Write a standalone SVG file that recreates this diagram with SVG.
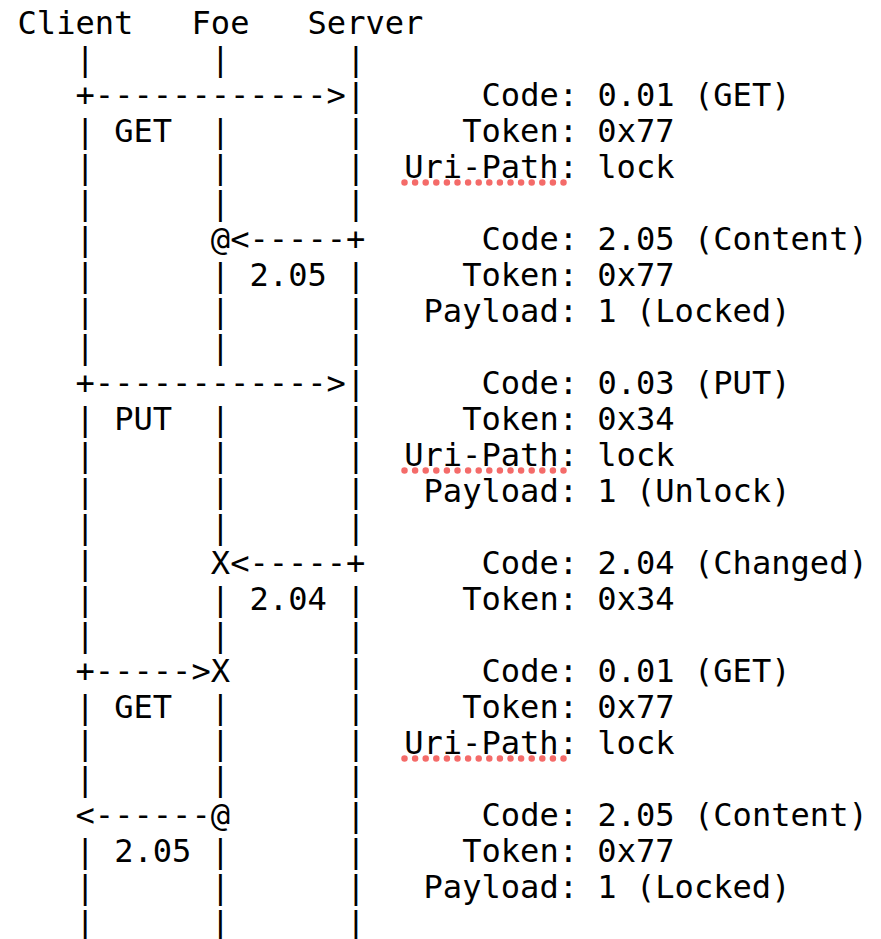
<svg xmlns="http://www.w3.org/2000/svg" width="881" height="939" viewBox="0 0 881 939">
<style>
text{font-family:"DejaVu Sans Mono","Liberation Mono",monospace;font-size:32.1px;fill:#000;white-space:pre}
.sq{fill:none;stroke:#f2514f;stroke-width:6.5;stroke-linecap:round;stroke-dasharray:0 10.6;opacity:.85}
</style>
<rect width="881" height="939" fill="#fff"/>
<g transform="translate(2.5,0)">
<g id="client">
<text x="15" y="33.5">Client</text>
<text><tspan x="73" y="69.5">|</tspan><tspan x="73" y="141.5">|</tspan><tspan x="73" y="177.5">|</tspan><tspan x="73" y="213.5">|</tspan><tspan x="73" y="249.5">|</tspan><tspan x="73" y="285.5">|</tspan><tspan x="73" y="321.5">|</tspan><tspan x="73" y="357.5">|</tspan><tspan x="73" y="429.5">|</tspan><tspan x="73" y="465.5">|</tspan><tspan x="73" y="501.5">|</tspan><tspan x="73" y="537.5">|</tspan><tspan x="73" y="573.5">|</tspan><tspan x="73" y="609.5">|</tspan><tspan x="73" y="645.5">|</tspan><tspan x="73" y="717.5">|</tspan><tspan x="73" y="753.5">|</tspan><tspan x="73" y="789.5">|</tspan><tspan x="73" y="861.5">|</tspan><tspan x="73" y="897.5">|</tspan><tspan x="73" y="933.5">|</tspan></text>
</g>
<g id="foe">
<text x="189" y="33.5">Foe</text>
<text><tspan x="208.33" y="69.5">|</tspan><tspan x="208.33" y="141.5">|</tspan><tspan x="208.33" y="177.5">|</tspan><tspan x="208.33" y="213.5">|</tspan><tspan x="208.33" y="285.5">|</tspan><tspan x="208.33" y="321.5">|</tspan><tspan x="208.33" y="357.5">|</tspan><tspan x="208.33" y="429.5">|</tspan><tspan x="208.33" y="465.5">|</tspan><tspan x="208.33" y="501.5">|</tspan><tspan x="208.33" y="537.5">|</tspan><tspan x="208.33" y="609.5">|</tspan><tspan x="208.33" y="645.5">|</tspan><tspan x="208.33" y="717.5">|</tspan><tspan x="208.33" y="753.5">|</tspan><tspan x="208.33" y="789.5">|</tspan><tspan x="208.33" y="861.5">|</tspan><tspan x="208.33" y="897.5">|</tspan><tspan x="208.33" y="933.5">|</tspan></text>
</g>
<g id="server">
<text x="305" y="33.5">Server</text>
<text><tspan x="343.67" y="69.5">|</tspan><tspan x="343.67" y="105.5">|</tspan><tspan x="343.67" y="141.5">|</tspan><tspan x="343.67" y="177.5">|</tspan><tspan x="343.67" y="213.5">|</tspan><tspan x="343.67" y="285.5">|</tspan><tspan x="343.67" y="321.5">|</tspan><tspan x="343.67" y="357.5">|</tspan><tspan x="343.67" y="393.5">|</tspan><tspan x="343.67" y="429.5">|</tspan><tspan x="343.67" y="465.5">|</tspan><tspan x="343.67" y="501.5">|</tspan><tspan x="343.67" y="537.5">|</tspan><tspan x="343.67" y="609.5">|</tspan><tspan x="343.67" y="645.5">|</tspan><tspan x="343.67" y="681.5">|</tspan><tspan x="343.67" y="717.5">|</tspan><tspan x="343.67" y="753.5">|</tspan><tspan x="343.67" y="789.5">|</tspan><tspan x="343.67" y="825.5">|</tspan><tspan x="343.67" y="861.5">|</tspan><tspan x="343.67" y="897.5">|</tspan><tspan x="343.67" y="933.5">|</tspan></text>
</g>
<g id="connectors">
<text x="73" y="105.5">+------------&gt;</text>
<text x="111.67" y="141.5">GET</text>
<text x="208.33" y="249.5">@&lt;-----+</text>
<text x="247" y="285.5">2.05</text>
<text x="73" y="393.5">+------------&gt;</text>
<text x="111.67" y="429.5">PUT</text>
<text x="208.33" y="573.5">X&lt;-----+</text>
<text x="247" y="609.5">2.04</text>
<text x="73" y="681.5">+-----&gt;X</text>
<text x="111.67" y="717.5">GET</text>
<text x="73" y="825.5">&lt;------@</text>
<text x="111.67" y="861.5">2.05</text>
</g>
<g id="annotations">
<text x="479" y="105.5">Code: 0.01 (GET)</text>
<text x="459.67" y="141.5">Token: 0x77</text>
<text x="401.67" y="177.5">Uri-Path: lock</text>
<text x="479" y="249.5">Code: 2.05 (Content)</text>
<text x="459.67" y="285.5">Token: 0x77</text>
<text x="421" y="321.5">Payload: 1 (Locked)</text>
<text x="479" y="393.5">Code: 0.03 (PUT)</text>
<text x="459.67" y="429.5">Token: 0x34</text>
<text x="401.67" y="465.5">Uri-Path: lock</text>
<text x="421" y="501.5">Payload: 1 (Unlock)</text>
<text x="479" y="573.5">Code: 2.04 (Changed)</text>
<text x="459.67" y="609.5">Token: 0x34</text>
<text x="479" y="681.5">Code: 0.01 (GET)</text>
<text x="459.67" y="717.5">Token: 0x77</text>
<text x="401.67" y="753.5">Uri-Path: lock</text>
<text x="479" y="825.5">Code: 2.05 (Content)</text>
<text x="459.67" y="861.5">Token: 0x77</text>
<text x="421" y="897.5">Payload: 1 (Locked)</text>
<path class="sq" d="M402 182.5H562M402 470.5H562M402 758.5H562"/>
</g>
</g>
</svg>
